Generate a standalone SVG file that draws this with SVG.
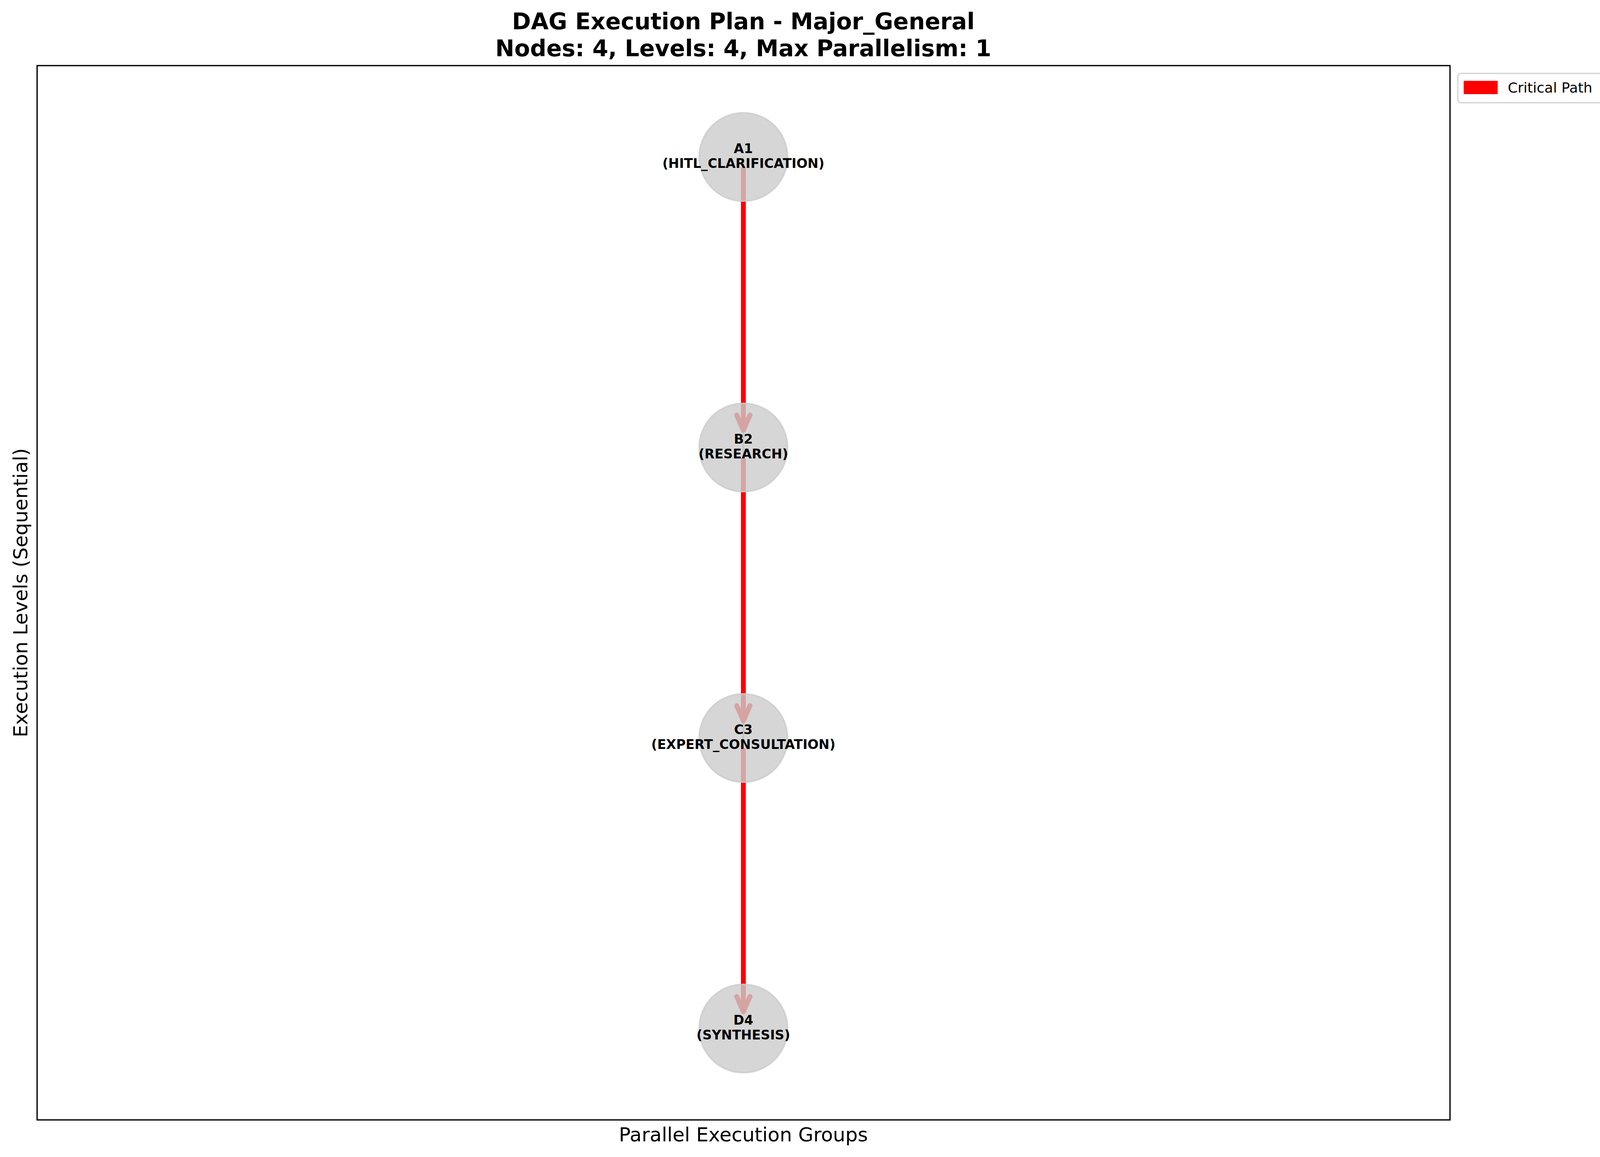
<svg xmlns="http://www.w3.org/2000/svg" width="4162" height="2963" viewBox="0 0 4162 2963">
<style>
text{font-family:"DejaVu Sans","Liberation Sans",sans-serif;fill:#000}
.title{font-size:58.3px;font-weight:bold;text-anchor:middle}
.axlab{font-size:50px;text-anchor:middle}
.nlab{font-size:33.3px;font-weight:bold;text-anchor:middle}
.node{fill:#cccccc;fill-opacity:0.8;stroke:#cccccc;stroke-opacity:0.8;stroke-width:4.2}
.crit{fill:none;stroke:#ff0000;stroke-width:12.5;stroke-linecap:round;stroke-linejoin:round}
.base{fill:none;stroke:#808080;stroke-opacity:0.7;stroke-width:4}
</style>
<rect x="0" y="0" width="4162" height="2963" fill="#ffffff"/>
<text class="title" x="1903" y="75">DAG Execution Plan - Major_General</text>
<text class="title" x="1903" y="144">Nodes: 4, Levels: 4, Max Parallelism: 1</text>
<rect x="95" y="168" width="3617" height="2700" fill="none" stroke="#000" stroke-width="3.3"/>
<text class="axlab" x="1903" y="2923">Parallel Execution Groups</text>
<text class="axlab" transform="translate(70,1518) rotate(-90)" x="0" y="0">Execution Levels (Sequential)</text>
<g id="connectors">
<line class="base" x1="1903" y1="402" x2="1903" y2="2597"/>
<path class="crit" d="M1903,433 L1903,1102 M1886,1063 L1903,1102 L1920,1063"/>
<path class="crit" d="M1903,1177 L1903,1846 M1886,1807 L1903,1846 L1920,1807"/>
<path class="crit" d="M1903,1921 L1903,2591 M1886,2552 L1903,2591 L1920,2552"/>
</g>
<g id="node-A1">
<circle class="node" cx="1903" cy="402" r="113"/>
<text class="nlab" x="1903" y="392">A1</text>
<text class="nlab" x="1903" y="430">(HITL_CLARIFICATION)</text>
</g>
<g id="node-B2">
<circle class="node" cx="1903" cy="1146" r="113"/>
<text class="nlab" x="1903" y="1136">B2</text>
<text class="nlab" x="1903" y="1174">(RESEARCH)</text>
</g>
<g id="node-C3">
<circle class="node" cx="1903" cy="1890" r="113"/>
<text class="nlab" x="1903" y="1880">C3</text>
<text class="nlab" x="1903" y="1918">(EXPERT_CONSULTATION)</text>
</g>
<g id="node-D4">
<circle class="node" cx="1903" cy="2634" r="113"/>
<text class="nlab" x="1903" y="2624">D4</text>
<text class="nlab" x="1903" y="2662">(SYNTHESIS)</text>
</g>
<g id="legend">
<rect x="3732" y="188" width="401" height="75" rx="7" ry="7" fill="#ffffff" fill-opacity="0.8" stroke="#cccccc" stroke-opacity="0.8" stroke-width="3.3"/>
<rect x="3747" y="207" width="87" height="34" fill="#ff0000"/>
<text x="3860" y="237" style="font-size:36px">Critical Path</text>
</g>
</svg>
